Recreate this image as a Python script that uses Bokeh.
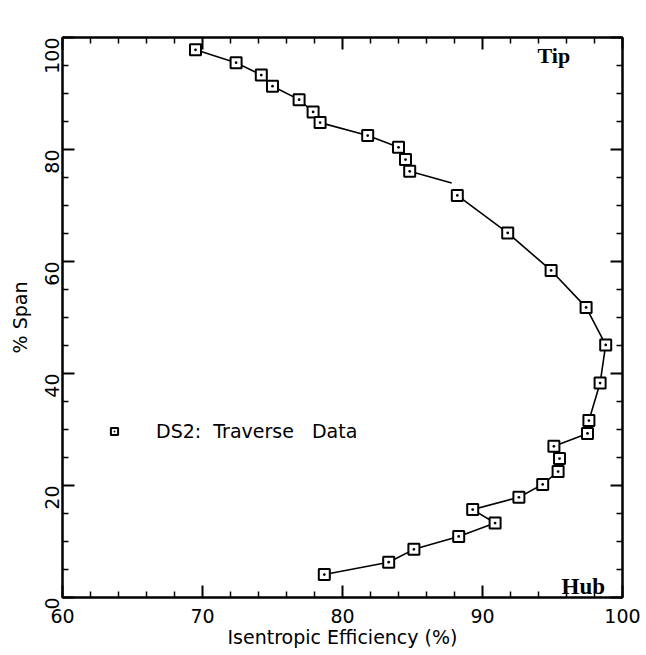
from bokeh.plotting import figure
from bokeh.models import (LinearAxis, Range1d, FixedTicker, Legend, LegendItem,
                          Label, ColumnDataSource, CustomJSTickFormatter)
from bokeh.embed import file_html
from bokeh.resources import INLINE
import numpy as np

# Data (Isentropic efficiency %, % span)
efficiency = [69.5, 72.4, 74.2, 75.0, 76.9, 77.9, 78.4, 81.8, 84.0, 84.5, 84.8,
              88.2, 91.8, 94.9, 97.4, 98.8, 98.4, 97.6, 97.5, 95.1, 95.5, 95.4,
              94.3, 92.6, 89.3, 90.9, 88.3, 85.1, 83.3, 78.7]
span = [97.8, 95.5, 93.3, 91.3, 88.9, 86.7, 84.8, 82.5, 80.4, 78.2, 76.1,
        71.8, 65.1, 58.4, 51.8, 45.1, 38.3, 31.6, 29.3, 27.0, 24.8, 22.5,
        20.2, 17.9, 15.7, 13.3, 10.9, 8.6, 6.3, 4.1]
# the curve is broken just before the 71.8 % span point
break_after = 10
line_gap_end = (87.8, 74.0)

x_major = [60, 70, 80, 90, 100]
x_minor = [62, 64, 66, 68, 72, 74, 76, 78, 82, 84, 86, 88, 92, 94, 96, 98]
y_major = [0, 20, 40, 60, 80, 100]
y_minor = [5, 10, 15, 25, 30, 35, 45, 50, 55, 65, 70, 75, 85, 90, 95]

legend_label = "DS2:\u00a0\u00a0Traverse\u00a0\u00a0\u00a0Data"

FONT = "DejaVu Sans"
FS = "19px"

p = figure(width=646, height=655, output_backend="svg", toolbar_location=None,
           x_range=Range1d(60, 100), y_range=Range1d(0, 100),
           min_border_left=62, min_border_right=24, min_border_top=37,
           min_border_bottom=58, x_axis_location="below", y_axis_location="left")
p.grid.visible = False
p.outline_line_color = "black"
p.outline_line_width = 2
p.background_fill_color = "white"
p.border_fill_color = "white"

# line with a gap
lx = efficiency[:break_after + 1] + [line_gap_end[0], np.nan] + efficiency[break_after + 1:]
ly = span[:break_after + 1] + [line_gap_end[1], np.nan] + span[break_after + 1:]
p.line(lx, ly, line_color="black", line_width=1.6)

src = ColumnDataSource(dict(x=efficiency, y=span))
pts = p.scatter("x", "y", source=src, marker="square_dot", size=11,
                fill_color="white", line_color="black", line_width=2)


def style_axis(ax):
    ax.axis_line_color = "black"
    ax.axis_line_width = 2
    ax.major_tick_in = 12
    ax.major_tick_out = 0
    ax.minor_tick_in = 6
    ax.minor_tick_out = 0
    ax.major_tick_line_width = 2
    ax.minor_tick_line_width = 1.5
    ax.major_tick_line_color = "black"
    ax.minor_tick_line_color = "black"
    ax.major_label_text_font = FONT
    ax.major_label_text_font_size = FS
    ax.major_label_text_color = "black"
    ax.axis_label_text_font = FONT
    ax.axis_label_text_font_size = FS
    ax.axis_label_text_font_style = "normal"
    ax.axis_label_text_color = "black"


xa = p.xaxis[0]
xa.ticker = FixedTicker(ticks=x_major, minor_ticks=x_minor)
xa.axis_label = "Isentropic Efficiency (%)"
style_axis(xa)
xa.major_label_standoff = 11
xa.axis_label_standoff = 0

ya = p.yaxis[0]
ya.ticker = FixedTicker(ticks=y_major, minor_ticks=y_minor)
ya.axis_label = "% Span"
style_axis(ya)
ya.major_label_orientation = np.pi / 2
ya.major_label_standoff = 11
ya.axis_label_standoff = 4

blank = CustomJSTickFormatter(code="return ''")

top = LinearAxis(ticker=FixedTicker(ticks=x_major, minor_ticks=x_minor),
                 formatter=blank)
style_axis(top)
top.major_label_standoff = 0
p.add_layout(top, "above")

right = LinearAxis(ticker=FixedTicker(ticks=y_major, minor_ticks=y_minor),
                   formatter=blank)
style_axis(right)
right.major_label_standoff = 0
p.add_layout(right, "right")

legend = Legend(items=[LegendItem(label=legend_label, renderers=[pts])],
                location=(43, 155), label_text_font=FONT,
                label_text_font_size=FS, label_text_color="black",
                label_standoff=33,
                glyph_width=18, glyph_height=18, padding=0, margin=0,
                border_line_color=None, background_fill_alpha=0)
p.add_layout(legend, "center")

p.add_layout(Label(x=475, y=555, x_units="screen", y_units="screen", text="Tip",
                   text_font="Liberation Serif", text_font_style="bold",
                   text_color="black", level="overlay",
                   text_font_size="22px", text_baseline="top"))
p.add_layout(Label(x=499, y=24, x_units="screen", y_units="screen", text="Hub",
                   text_font="Liberation Serif", text_font_style="bold",
                   text_color="black", level="overlay",
                   text_font_size="23px", text_baseline="top"))

open("out.html", "w").write(file_html(p, INLINE))
